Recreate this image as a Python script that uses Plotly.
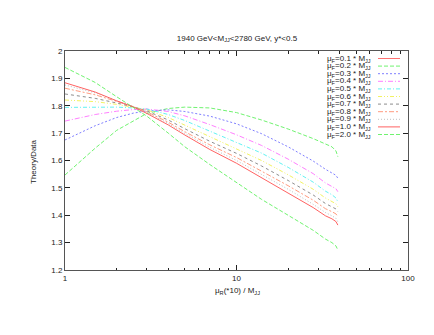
import plotly.graph_objects as go

# ---- data ----
x_vals = [1, 1.5, 2, 2.5, 3, 4, 5, 7, 10, 14, 20, 28, 33, 36, 38, 39]

mu_f_labels = ["0.1", "0.2", "0.3", "0.4", "0.5", "0.6", "0.7", "0.8", "0.9", "1.0", "2.0"]

mu_01 = []  # not visible inside the plotted range
mu_02 = [1.547, 1.645, 1.710, 1.745, 1.772, 1.790, 1.795, 1.792, 1.775, 1.748, 1.715, 1.680, 1.660, 1.650, 1.635, 1.614]
mu_03 = [1.675, 1.727, 1.757, 1.773, 1.781, 1.785, 1.779, 1.762, 1.734, 1.698, 1.650, 1.598, 1.568, 1.556, 1.546, 1.535]
mu_04 = [1.744, 1.768, 1.780, 1.786, 1.788, 1.779, 1.763, 1.731, 1.694, 1.655, 1.605, 1.552, 1.518, 1.506, 1.497, 1.486]
mu_05 = [1.794, 1.796, 1.795, 1.792, 1.788, 1.768, 1.746, 1.707, 1.667, 1.627, 1.575, 1.521, 1.488, 1.475, 1.463, 1.449]
mu_06 = [1.821, 1.815, 1.805, 1.795, 1.785, 1.757, 1.729, 1.686, 1.643, 1.600, 1.548, 1.495, 1.463, 1.451, 1.442, 1.431]
mu_07 = [1.843, 1.827, 1.810, 1.796, 1.781, 1.748, 1.716, 1.670, 1.626, 1.580, 1.527, 1.474, 1.443, 1.432, 1.423, 1.413]
mu_08 = [1.864, 1.840, 1.816, 1.797, 1.778, 1.740, 1.705, 1.657, 1.611, 1.562, 1.508, 1.455, 1.424, 1.413, 1.405, 1.395]
mu_09 = [1.876, 1.847, 1.818, 1.797, 1.775, 1.735, 1.699, 1.648, 1.600, 1.550, 1.495, 1.440, 1.410, 1.398, 1.389, 1.376]
mu_10 = [1.884, 1.850, 1.818, 1.796, 1.772, 1.730, 1.693, 1.640, 1.590, 1.538, 1.482, 1.428, 1.398, 1.387, 1.377, 1.364]
mu_20 = [1.940, 1.885, 1.833, 1.795, 1.762, 1.700, 1.650, 1.585, 1.518, 1.458, 1.400, 1.345, 1.313, 1.300, 1.288, 1.273]

series = [mu_01, mu_02, mu_03, mu_04, mu_05, mu_06, mu_07, mu_08, mu_09, mu_10, mu_20]

x_tick_vals = [1, 10, 100]
x_tick_text = ["1", "10", "100"]
y_tick_vals = [1.2, 1.3, 1.4, 1.5, 1.6, 1.7, 1.8, 1.9, 2.0]
y_tick_text = ["1.2", "1.3", "1.4", "1.5", "1.6", "1.7", "1.8", "1.9", "2"]

title_text = "1940 GeV<M<sub>JJ</sub><2780 GeV, y*<0.5"
x_title = "μ<sub>R</sub>(*10) / M<sub>JJ</sub>"
y_title = "Theory/Data"

# ---- styles (pale, thin gnuplot-like lines) ----
colors = ["#ff6060", "#60f060", "#7070ff", "#ff70ff", "#50f0f0", "#f0f050",
          "#808080", "#ff9070", "#b8b8b8", "#ff5050", "#60f060"]
dashes = ["solid", "4px,2px", "2px,2px", "5px,2px,1px,2px", "4px,2px,1px,2px",
          "4px,2px,1px,2px,1px,2px", "3px,3px", "5px,2px,2px,2px", "1px,2px", "solid", "4px,2px"]
FONT = "Liberation Sans, Arial, sans-serif"

W, H = 434, 335
L, R, T, B = 65, 26, 51, 65
pw, ph = W - L - R, H - T - B

fig = go.Figure()
for lab, ys, c, d in zip(mu_f_labels, series, colors, dashes):
    xs = x_vals[:len(ys)]
    fig.add_trace(go.Scatter(x=xs, y=ys, mode="lines", showlegend=False,
                             line=dict(color=c, width=0.9, dash=d),
                             name="μF=" + lab + " * MJJ"))

# gnuplot-style key: text on the left, line sample on the right
annotations = []
shapes = []
for i, (lab, c, d) in enumerate(zip(mu_f_labels, colors, dashes)):
    py = 58.5 + 7.6 * i
    yp = (H - B - py) / ph
    annotations.append(dict(xref="paper", yref="paper", x=(373 - L) / pw, y=yp,
                            xanchor="right", yanchor="middle", showarrow=False,
                            text="μ<sub>F</sub>=" + lab + " * M<sub>JJ</sub>",
                            font=dict(size=8, family=FONT, color="#222")))
    shapes.append(dict(type="line", xref="paper", yref="paper",
                       x0=(378 - L) / pw, x1=(400 - L) / pw, y0=yp, y1=yp,
                       line=dict(color=c, width=0.9, dash=d)))

annotations.append(dict(xref="paper", yref="paper", x=(237 - L) / pw, y=(H - B - 291) / ph,
                        xanchor="center", yanchor="middle", showarrow=False,
                        text=x_title, font=dict(size=8, family=FONT, color="#222")))
annotations.append(dict(xref="paper", yref="paper", x=(33 - L) / pw, y=(H - B - 162) / ph,
                        xanchor="center", yanchor="middle", showarrow=False, textangle=-90,
                        text=y_title, font=dict(size=8, family=FONT, color="#222")))

fig.update_layout(
    width=W, height=H,
    margin=dict(l=L, r=R, t=T, b=B),
    paper_bgcolor="white", plot_bgcolor="white",
    title=dict(text=title_text, x=(237) / W, xanchor="center",
               y=(H - 38) / H, yanchor="middle", yref="container",
               font=dict(size=8, family=FONT, color="#222")),
    font=dict(family=FONT, size=8, color="#222"),
    annotations=annotations,
    shapes=shapes,
)
fig.update_xaxes(type="log", range=[0, 2], tickvals=x_tick_vals, ticktext=x_tick_text,
                 ticks="inside", ticklen=5, tickcolor="#222", showgrid=False,
                 showline=True, linecolor="#555", linewidth=1, mirror="ticks",
                 minor=dict(ticks="inside", ticklen=2.5, tickcolor="#222",
                            tickvals=[2, 3, 4, 5, 6, 7, 8, 9, 20, 30, 40, 50, 60, 70, 80, 90],
                            showgrid=False),
                 tickfont=dict(size=8, family=FONT, color="#222"), zeroline=False)
fig.update_yaxes(range=[1.2, 2.0], tickvals=y_tick_vals, ticktext=y_tick_text,
                 ticks="inside", ticklen=5, tickcolor="#222", showgrid=False,
                 showline=True, linecolor="#555", linewidth=1, mirror="ticks",
                 tickfont=dict(size=8, family=FONT, color="#222"), zeroline=False)

fig.write_html("out.html", config={"displayModeBar": False},
               post_script="document.body.style.margin='0';document.body.style.overflow='hidden';")
